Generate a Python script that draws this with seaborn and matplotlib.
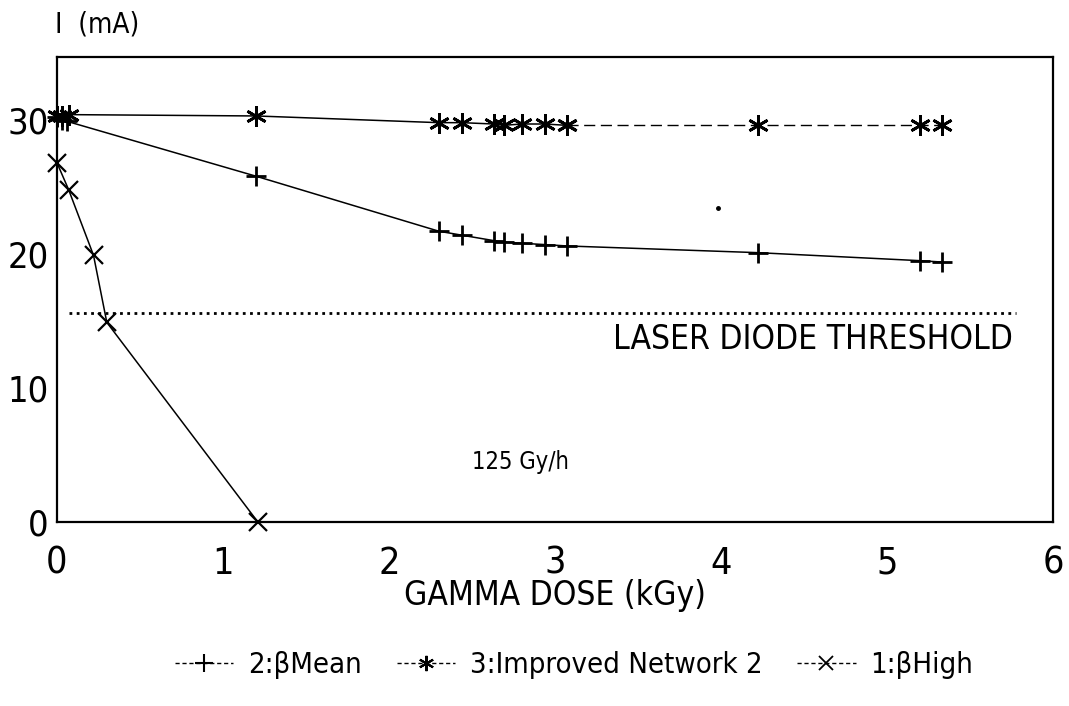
import matplotlib
matplotlib.use("Agg")
import matplotlib.pyplot as plt
from matplotlib.lines import Line2D
from matplotlib import font_manager as fm
import seaborn as sns
import pandas as pd

# ---------------- data ----------------
mean_dose = [0.0, 0.03, 0.06, 1.20, 2.30, 2.44, 2.63, 2.69, 2.80, 2.94, 3.07, 4.22, 5.20, 5.33]
mean_curr = [30.2, 30.0, 29.9, 25.8, 21.7, 21.4, 21.0, 20.9, 20.8, 20.7, 20.6, 20.1, 19.5, 19.4]

impr_dose = [0.0, 0.03, 0.07, 1.20, 2.30, 2.44, 2.63, 2.69, 2.80, 2.94, 3.07, 4.22, 5.20, 5.33]
impr_curr = [30.3, 30.3, 30.4, 30.3, 29.8, 29.8, 29.7, 29.6, 29.7, 29.7, 29.6, 29.6, 29.6, 29.6]

high_dose = [0.0, 0.07, 0.22, 0.30, 1.21]
high_curr = [26.8, 24.8, 19.9, 14.9, 0.0]

threshold = 15.6
threshold_span = [0.07, 5.78]
stray_dot = ([3.98], [23.4])

x_ticks = [0, 1, 2, 3, 4, 5, 6]
y_ticks = [0, 10, 20, 30]

labels = ["2:βMean", "3:Improved Network 2", "1:βHigh"]

# ---------------- style ----------------
sns.set_theme(style="white")
names = {f.name for f in fm.fontManager.ttflist}
stretch = "normal"
if "Liberation Sans Narrow" in names:
    FAM = ["Liberation Sans Narrow", "DejaVu Sans"]
elif any(f.name == "DejaVu Sans" and str(f.stretch) == "condensed" for f in fm.fontManager.ttflist):
    FAM = ["DejaVu Sans", "Noto Sans"]
    stretch = "condensed"
else:
    FAM = ["DejaVu Sans"]
plt.rcParams["font.family"] = FAM
plt.rcParams["font.stretch"] = stretch
plt.rcParams["text.color"] = "black"

fig = plt.figure(figsize=(10.69, 7.06), dpi=100)
ax = fig.add_axes([57 / 1069, 1 - 522 / 706, (1053 - 57) / 1069, (522 - 57) / 706])

df_mean = pd.DataFrame({"x": mean_dose, "y": mean_curr})
df_impr = pd.DataFrame({"x": impr_dose, "y": impr_curr})
df_high = pd.DataFrame({"x": high_dose, "y": high_curr})

# lines
sns.lineplot(data=df_mean, x="x", y="y", ax=ax, color="black", lw=1.1, sort=False,
             estimator=None, marker="+", markersize=15, markeredgewidth=2.0,
             markeredgecolor="black", clip_on=False)
solid_part = df_impr[df_impr["x"] <= 3.07]
dash_part = df_impr[df_impr["x"] >= 3.07]
sns.lineplot(data=solid_part, x="x", y="y", ax=ax, color="black", lw=1.1, sort=False,
             estimator=None, marker=(6, 2, 0), markersize=15, markeredgewidth=2.0,
             markeredgecolor="black", clip_on=False)
sns.lineplot(data=dash_part, x="x", y="y", ax=ax, color="black", lw=1.0, sort=False,
             estimator=None, linestyle=(0, (8, 4)), marker=(6, 2, 0), markersize=15,
             markeredgewidth=2.0, markeredgecolor="black", clip_on=False)
sns.lineplot(data=df_high, x="x", y="y", ax=ax, color="black", lw=1.1, sort=False,
             estimator=None, marker="x", markersize=13, markeredgewidth=1.6,
             markeredgecolor="black", clip_on=False)

ax.plot(threshold_span, [threshold, threshold], color="black", lw=2.0, linestyle=(0, (1, 1.6)))
ax.plot(stray_dot[0], stray_dot[1], "o", color="black", markersize=2.5)

ax.text(3.35, 13.6, "LASER DIODE THRESHOLD", fontsize=24, va="center", ha="left", color="black")
ax.text(2.5, 4.5, "125 Gy/h", fontsize=17, va="center", ha="left", color="black")

ax.set_xlim(0, 6)
ax.set_ylim(0, 34.7)
ax.set_xticks(x_ticks)
ax.set_yticks(y_ticks)
ax.set_xticklabels([str(t) for t in x_ticks], fontsize=27)
ax.set_yticklabels([str(t) for t in y_ticks], fontsize=26)
ax.tick_params(axis="x", direction="out", length=11, width=1.5, colors="black", pad=6)
ax.tick_params(axis="y", direction="in", length=11, width=1.5, colors="black", pad=6)
ax.set_xlabel("GAMMA DOSE (kGy)", fontsize=24, color="black", labelpad=-2)
ax.set_ylabel("")
for s in ax.spines.values():
    s.set_color("black")
    s.set_linewidth(1.6)

fig.text(55 / 1069, 1 - 25 / 706, "I  (mA)", fontsize=20, ha="left", va="center", color="black")

handles = [
    Line2D([], [], color="black", lw=1.0, ls=(0, (3, 2)), marker="+", markersize=13, markeredgewidth=1.5),
    Line2D([], [], color="black", lw=1.0, ls=(0, (3, 2)), marker=(6, 2, 0), markersize=11, markeredgewidth=1.5),
    Line2D([], [], color="black", lw=1.0, ls=(0, (3, 2)), marker="x", markersize=10, markeredgewidth=1.3),
]
fig.legend(handles, labels, loc="center", bbox_to_anchor=(0.537, 1 - 665 / 706), ncol=3,
           frameon=False, fontsize=21, handlelength=2.0, columnspacing=1.2, handletextpad=0.5,
           labelcolor="black")

fig.savefig("out.png", dpi=100, facecolor="white")
